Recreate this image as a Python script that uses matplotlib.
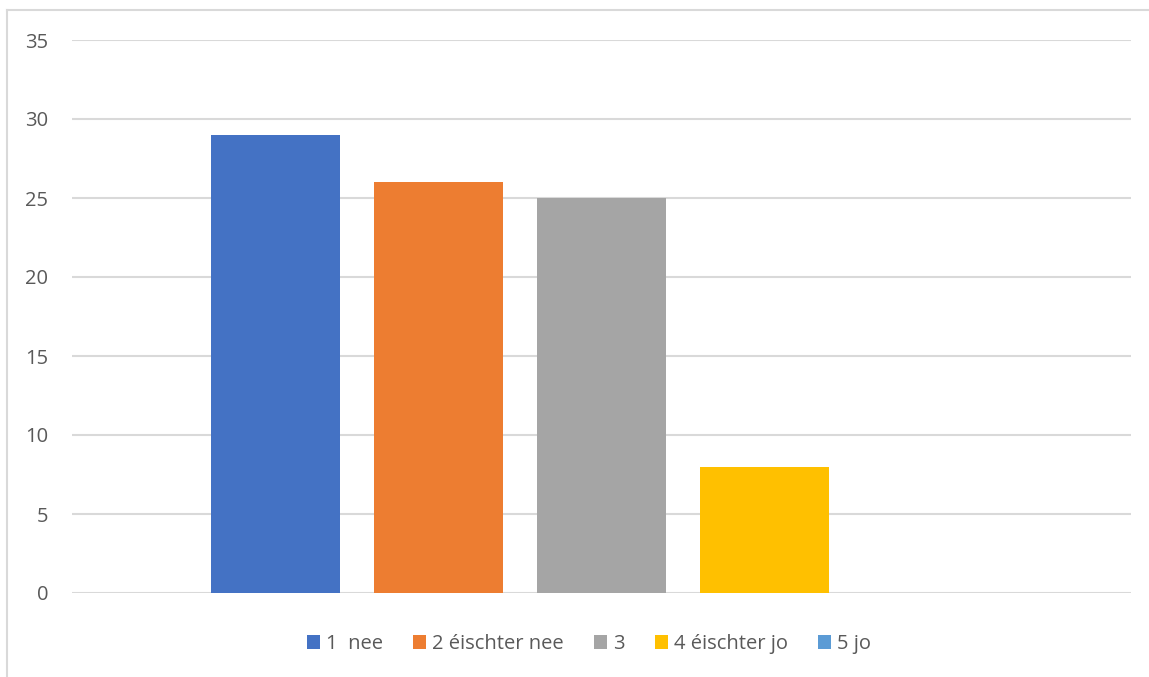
import matplotlib.pyplot as plt
from matplotlib.lines import Line2D

# data
labels = ["1  nee", "2 éischter nee", "3", "4 éischter jo", "5 jo"]
values = [29, 26, 25, 8, 0]
colors = ["#4472C4", "#ED7D31", "#A5A5A5", "#FFC000", "#5B9BD5"]
yticks = [0, 5, 10, 15, 20, 25, 30, 35]

plt.rcParams['font.family'] = ['Open Sans', 'DejaVu Sans']

W, H = 1149, 677
fig = plt.figure(figsize=(W / 100, H / 100), dpi=100)
ax = fig.add_axes([72 / W, 84 / H, (1131 - 72) / W, (593 - 40) / H])

handles = []
for i, (lab, val, col) in enumerate(zip(labels, values, colors)):
    b = ax.bar(i - 2, val, width=129 / 163, color=col, label=lab, zorder=3)
    handles.append(b)

ax.set_xlim(-3.25, 3.25)
ax.set_ylim(0, 35)
ax.set_yticks(yticks)
ax.set_xticks([])
ax.grid(axis='y', color='#d9d9d9', linewidth=1.5, zorder=0)
for s in ax.spines.values():
    s.set_visible(False)
ax.tick_params(axis='y', length=0, pad=17, labelsize=14.5, labelcolor='#595959')

leg = fig.legend(handles=handles, labels=labels, loc='center',
                 bbox_to_anchor=(589 / W, 1 - 644 / H), ncol=5, frameon=False,
                 fontsize=14.5, handlelength=0.65, handleheight=0.65,
                 handletextpad=0.3, columnspacing=1.5)
for t in leg.get_texts():
    t.set_color('#595959')

# chart border (only top/left visible in the crop)
fig.add_artist(Line2D([7 / W, 7 / W], [0, 1 - 10 / H], color='#d9d9d9', linewidth=1.5))
fig.add_artist(Line2D([7 / W, 1], [1 - 10 / H, 1 - 10 / H], color='#d9d9d9', linewidth=1.5))

fig.savefig("out.png", dpi=100)
